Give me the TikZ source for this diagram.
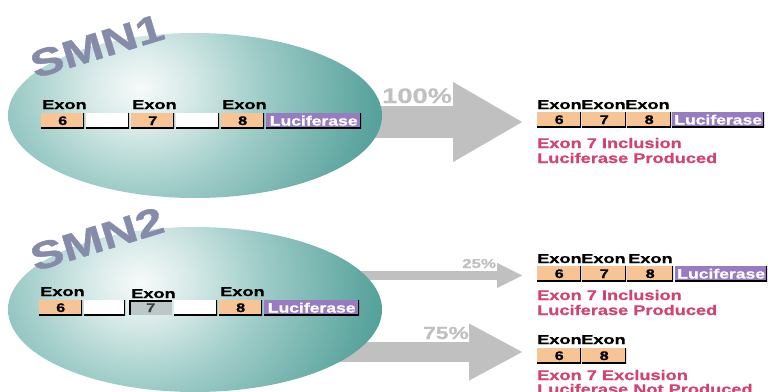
\documentclass[tikz,border=0pt]{standalone}
\usepackage{fontspec}
\setmainfont[FakeStretch=1.3,FakeBold=0.6]{Liberation Sans}
\newfontfamily\widefont[FakeStretch=1.4,FakeBold=0.6]{Liberation Sans}
\newfontfamily\smnfont[FakeStretch=1.3,FakeBold=1.2]{Liberation Sans}
\usetikzlibrary{arrows.meta}
\definecolor{peach}{RGB}{247,196,150}
\definecolor{lucpurple}{RGB}{152,124,192}
\definecolor{smngray}{RGB}{134,139,170}
\definecolor{arrowgray}{RGB}{192,192,192}
\definecolor{redtxt}{RGB}{212,66,112}
\definecolor{grayseven}{RGB}{188,200,200}
\definecolor{tA}{RGB}{246,250,250}
\definecolor{tB}{RGB}{215,234,232}
\definecolor{tC}{RGB}{160,205,201}
\definecolor{tD}{RGB}{98,168,162}
\definecolor{tE}{RGB}{38,138,130}
\definecolor{tF}{RGB}{0,120,112}
\pgfdeclareradialshading{tealball}{\pgfpoint{0bp}{0bp}}{color(0bp)=(tA); color(5bp)=(tB); color(12bp)=(tC); color(22bp)=(tD); color(32bp)=(tE); color(42bp)=(tF); color(50bp)=(tF)}
\begin{document}
\begin{tikzpicture}[x=1pt,y=-1pt,
  lbl/.style={font=\widefont\fontsize{13}{13}\selectfont\bfseries, inner sep=0pt, anchor=base west, text=black},
  edgebr/.style={path picture={\draw[black, line width=3.4pt]
      (path picture bounding box.north east) -- (path picture bounding box.south east)
      -- (path picture bounding box.south west);}},
  edgetl/.style={path picture={\draw[black, line width=3.4pt]
      (path picture bounding box.south west) -- (path picture bounding box.north west)
      -- (path picture bounding box.north east);}},
  gbox/.style={minimum width=43pt, minimum height=15pt, inner sep=0pt, anchor=north west, font=\fontsize{12.5}{12.5}\selectfont\bfseries},
  exonbox/.style={gbox, fill=peach, edgebr},
  rexonbox/.style={exonbox, minimum width=44pt},
  intron/.style={gbox, fill=white, edgebr},
  lucbox/.style={gbox, fill=lucpurple, text=white, minimum width=95pt, font=\fontsize{13.5}{13.5}\selectfont\bfseries, edgebr},
  skipbox/.style={gbox, fill=grayseven, text=black!75, edgetl},
  restxt/.style={font=\fontsize{14}{14}\selectfont\bfseries, text=redtxt, inner sep=0pt, anchor=base west},
  pct/.style={text=arrowgray, inner sep=0pt, anchor=base west},
  smn/.style={font=\smnfont\fontsize{38}{38}\selectfont\bfseries, text=smngray, inner sep=0pt, rotate=17},
  flowarrow/.style n args={3}{draw=arrowgray, line width=#1, -{Triangle[length=#2, width=#3, line width=0.1pt]}}
]
\useasboundingbox[fill=white] (0,0) rectangle (768,391);

% arrows (behind ellipses)
\coordinate (a1s) at (340,122);   \coordinate (a1e) at (522,122);
\coordinate (a2s) at (330,275.5); \coordinate (a2e) at (522,275.5);
\coordinate (a3s) at (330,352);   \coordinate (a3e) at (522,352);
\draw[flowarrow={32pt}{69pt}{80pt}] (a1s) -- (a1e);
\draw[flowarrow={9pt}{25pt}{25pt}] (a2s) -- (a2e);
\draw[flowarrow={20pt}{53pt}{57pt}] (a3s) -- (a3e);

% ellipses
\begin{scope}
  \clip (195,115.5) ellipse [x radius=187pt, y radius=82.5pt];
  \shade[shading=tealball] (140,88) ellipse [x radius=250pt, y radius=210pt];
\end{scope}
\begin{scope}
  \clip (195,309.5) ellipse [x radius=187pt, y radius=82.5pt];
  \shade[shading=tealball] (140,282) ellipse [x radius=250pt, y radius=210pt];
\end{scope}

% titles
\node[smn] (smn1) at (97,46) {SMN1};
\node[smn] (smn2) at (97,239) {SMN2};

% gene row 1 (SMN1)
\node[exonbox] (g1e6) at (41,113) {6};
\node[intron] (g1i1) at (86,113) {};
\node[exonbox] (g1e7) at (131,113) {7};
\node[intron] (g1i2) at (176,113) {};
\node[exonbox] (g1e8) at (221,113) {8};
\node[lucbox] (g1luc) at (266,113) {Luciferase};
\node[lbl] (g1l6) at (42,109) {Exon};
\node[lbl] (g1l7) at (132,109) {Exon};
\node[lbl] (g1l8) at (222,109) {Exon};

% gene row 2 (SMN2)
\node[exonbox] (g2e6) at (39,300) {6};
\node[intron, minimum width=41pt] (g2i1) at (84,300) {};
\node[skipbox] (g2e7) at (129,300) {7};
\node[intron] (g2i2) at (174,300) {};
\node[exonbox] (g2e8) at (219,300) {8};
\node[lucbox] (g2luc) at (264,300) {Luciferase};
\node[lbl] (g2l6) at (40,296) {Exon};
\node[lbl] (g2l7) at (131,298) {Exon};
\node[lbl] (g2l8) at (220,296) {Exon};

% percentages
\node[pct, font=\fontsize{21}{21}\selectfont\bfseries] (p100) at (382,103) {100\%};
\node[pct, font=\fontsize{13}{13}\selectfont\bfseries] (p25) at (462,268) {25\%};
\node[pct, font=\fontsize{17.5}{17.5}\selectfont\bfseries] (p75) at (423,339) {75\%};

% result 1
\node[rexonbox] (r1e6) at (537,112) {6};
\node[rexonbox] (r1e7) at (582,112) {7};
\node[rexonbox] (r1e8) at (627,112) {8};
\node[lucbox, minimum width=92pt] (r1luc) at (672,112) {Luciferase};
\node[lbl] (r1l6) at (537,109) {Exon};
\node[lbl] (r1l7) at (581,109) {Exon};
\node[lbl] (r1l8) at (625,109) {Exon};
\node[restxt] (r1t1) at (537,148) {Exon 7 Inclusion};
\node[restxt] (r1t2) at (537,163) {Luciferase Produced};

% result 2
\node[rexonbox] (r2e6) at (537,266) {6};
\node[rexonbox] (r2e7) at (582,266) {7};
\node[rexonbox, minimum width=46pt] (r2e8) at (627,266) {8};
\node[lucbox, minimum width=92pt] (r2luc) at (675,266) {Luciferase};
\node[lbl] (r2l6) at (537,263) {Exon};
\node[lbl] (r2l7) at (581,263) {Exon};
\node[lbl] (r2l8) at (628,263) {Exon};
\node[restxt] (r2t1) at (537,300) {Exon 7 Inclusion};
\node[restxt] (r2t2) at (537,315) {Luciferase Produced};

% result 3
\node[rexonbox] (r3e6) at (537,348) {6};
\node[rexonbox] (r3e8) at (582,348) {8};
\node[lbl] (r3l6) at (537,344) {Exon};
\node[lbl] (r3l8) at (581,344) {Exon};
\node[restxt] (r3t1) at (537,380) {Exon 7 Exclusion};
\node[restxt] (r3t2) at (537,394) {Luciferase Not Produced};
\end{tikzpicture}
\end{document}
